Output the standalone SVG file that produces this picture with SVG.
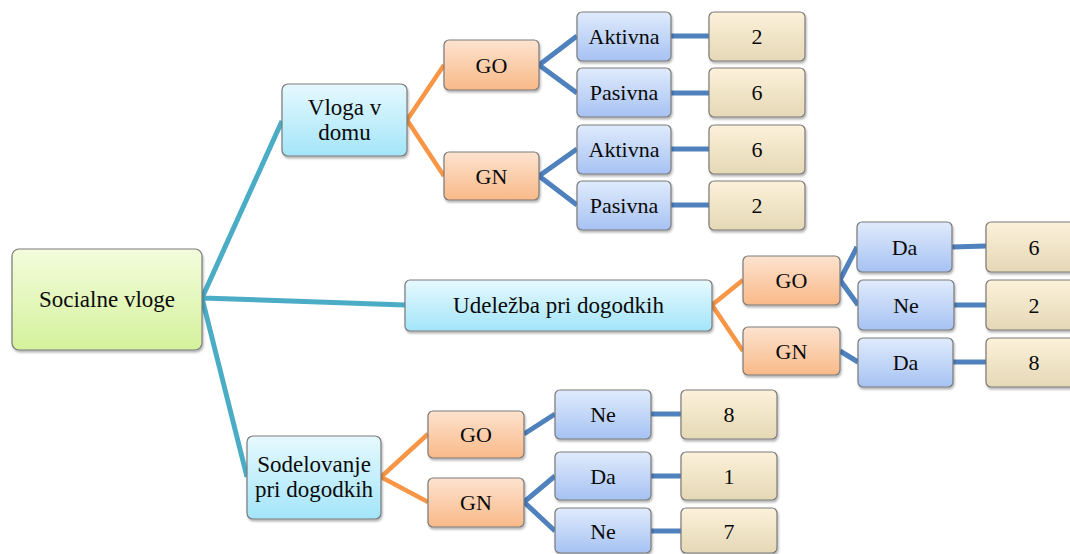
<svg xmlns="http://www.w3.org/2000/svg" width="1070" height="554" viewBox="0 0 1070 554" font-family="Liberation Serif, serif">
  <defs>
    <linearGradient id="gGreen" x1="0" y1="0" x2="0" y2="1">
      <stop offset="0" stop-color="#f3fcdc"/>
      <stop offset="1" stop-color="#d4f29c"/>
    </linearGradient>
    <linearGradient id="gCyan" x1="0" y1="0" x2="0" y2="1">
      <stop offset="0" stop-color="#e6f9fe"/>
      <stop offset="1" stop-color="#a3e5f9"/>
    </linearGradient>
    <linearGradient id="gOrange" x1="0" y1="0" x2="0" y2="1">
      <stop offset="0" stop-color="#fde3cf"/>
      <stop offset="1" stop-color="#f9b988"/>
    </linearGradient>
    <linearGradient id="gBlue" x1="0" y1="0" x2="0" y2="1">
      <stop offset="0" stop-color="#e0ebfc"/>
      <stop offset="1" stop-color="#a6c2f3"/>
    </linearGradient>
    <linearGradient id="gTan" x1="0" y1="0" x2="0" y2="1">
      <stop offset="0" stop-color="#fcf1da"/>
      <stop offset="1" stop-color="#e5d8b6"/>
    </linearGradient>
    <filter id="shadow" x="-10%" y="-10%" width="125%" height="135%">
      <feDropShadow dx="1" dy="2" stdDeviation="1.2" flood-color="#000" flood-opacity="0.3"/>
    </filter>
  </defs>
  <style>
    rect { stroke: #7a7a7a; stroke-width: 1.2; filter: url(#shadow); }
    .root rect { fill: url(#gGreen); }
    .l1 rect { fill: url(#gCyan); }
    .grp rect { fill: url(#gOrange); }
    .opt rect { fill: url(#gBlue); }
    .val rect { fill: url(#gTan); }
    text { font-family: "Liberation Serif", serif; fill: #0a0a0a; text-anchor: middle; font-size: 22px; }
    .big { font-size: 23px; }
    .c { dominant-baseline: central; }
    #connectors path { fill: none; stroke-linecap: butt; }
    .teal { stroke: #4bacc6; stroke-width: 5; }
    .orange { stroke: #f79646; stroke-width: 4.5; }
    .blue { stroke: #4f81bd; stroke-width: 5; }
  </style>

  <rect x="0" y="0" width="1070" height="554" fill="#fff" style="stroke:none;filter:none"/>

  <g id="connectors">
    <path class="teal" d="M202,298 L282,121 M202,298 L405,305 M202,298 L247,477"/>
    <path class="orange" d="M407,120 L444,65 M407,120 L444,176 M712,305 L743,280 M712,305 L743,351 M381,477 L428,434 M381,477 L428,502"/>
    <path class="blue" d="M539,65 L577,36 M539,65 L577,93 M539,176 L577,149 M539,176 L577,205
      M671,36 L709,36 M671,93 L709,93 M671,149 L709,149 M671,205 L709,205
      M840,280 L857,247 M840,280 L858,305 M840,351 L858,362
      M952,247 L986,246 M954,305 L986,305 M953,362 L986,362
      M524,434 L555,414 M524,502 L555,476 M524,502 L555,531
      M651,414 L681,414 M651,476 L681,476 M651,531 L681,531"/>
  </g>

  <!-- root -->
  <g id="n-root" class="root">
    <rect x="12" y="249" width="190" height="101" rx="7"/>
    <text class="big c" x="107" y="299">Socialne vloge</text>
  </g>

  <!-- first level -->
  <g id="n-vloga" class="l1">
    <rect x="282" y="84" width="125" height="72" rx="6"/>
    <text class="big" x="344.5" y="115">Vloga v</text>
    <text class="big" x="344.5" y="140">domu</text>
  </g>
  <g id="n-udelezba" class="l1">
    <rect x="405" y="280" width="307" height="51" rx="5"/>
    <text class="big c" x="558.5" y="305">Udeležba pri dogodkih</text>
  </g>
  <g id="n-sodelovanje" class="l1">
    <rect x="247" y="436" width="134" height="83" rx="6"/>
    <text class="big" x="314" y="472">Sodelovanje</text>
    <text class="big" x="314" y="497">pri dogodkih</text>
  </g>

  <!-- Vloga v domu branch -->
  <g id="n-vd-go" class="grp">
    <rect x="444" y="40" width="95" height="50" rx="5"/>
    <text class="c" x="491.5" y="65">GO</text>
  </g>
  <g id="n-vd-gn" class="grp">
    <rect x="444" y="152" width="95" height="48" rx="5"/>
    <text class="c" x="491.5" y="176">GN</text>
  </g>
  <g id="n-vd-go-akt" class="opt">
    <rect x="577" y="12" width="94" height="49" rx="5"/>
    <text class="c" x="624" y="36.5">Aktivna</text>
  </g>
  <g id="n-vd-go-pas" class="opt">
    <rect x="577" y="68" width="94" height="49" rx="5"/>
    <text class="c" x="624" y="92.5">Pasivna</text>
  </g>
  <g id="n-vd-gn-akt" class="opt">
    <rect x="577" y="125" width="94" height="49" rx="5"/>
    <text class="c" x="624" y="149.5">Aktivna</text>
  </g>
  <g id="n-vd-gn-pas" class="opt">
    <rect x="577" y="181" width="94" height="49" rx="5"/>
    <text class="c" x="624" y="205.5">Pasivna</text>
  </g>
  <g id="v-vd-go-akt" class="val">
    <rect x="709" y="12" width="96" height="49" rx="5"/>
    <text class="c" x="757" y="36.5">2</text>
  </g>
  <g id="v-vd-go-pas" class="val">
    <rect x="709" y="68" width="96" height="49" rx="5"/>
    <text class="c" x="757" y="92.5">6</text>
  </g>
  <g id="v-vd-gn-akt" class="val">
    <rect x="709" y="125" width="96" height="49" rx="5"/>
    <text class="c" x="757" y="149.5">6</text>
  </g>
  <g id="v-vd-gn-pas" class="val">
    <rect x="709" y="181" width="96" height="49" rx="5"/>
    <text class="c" x="757" y="205.5">2</text>
  </g>

  <!-- Udeležba pri dogodkih branch -->
  <g id="n-ud-go" class="grp">
    <rect x="743" y="256" width="97" height="49" rx="5"/>
    <text class="c" x="791.5" y="280.5">GO</text>
  </g>
  <g id="n-ud-gn" class="grp">
    <rect x="743" y="327" width="97" height="48" rx="5"/>
    <text class="c" x="791.5" y="351">GN</text>
  </g>
  <g id="n-ud-go-da" class="opt">
    <rect x="857" y="222" width="95" height="50" rx="5"/>
    <text class="c" x="904.5" y="247">Da</text>
  </g>
  <g id="n-ud-go-ne" class="opt">
    <rect x="858" y="280" width="96" height="50" rx="5"/>
    <text class="c" x="906" y="305">Ne</text>
  </g>
  <g id="n-ud-gn-da" class="opt">
    <rect x="858" y="338" width="95" height="49" rx="5"/>
    <text class="c" x="905.5" y="362.5">Da</text>
  </g>
  <g id="v-ud-go-da" class="val">
    <rect x="986" y="222" width="96" height="50" rx="5"/>
    <text class="c" x="1034" y="247">6</text>
  </g>
  <g id="v-ud-go-ne" class="val">
    <rect x="986" y="280" width="96" height="50" rx="5"/>
    <text class="c" x="1034" y="305">2</text>
  </g>
  <g id="v-ud-gn-da" class="val">
    <rect x="986" y="338" width="96" height="49" rx="5"/>
    <text class="c" x="1034" y="362.5">8</text>
  </g>

  <!-- Sodelovanje pri dogodkih branch -->
  <g id="n-so-go" class="grp">
    <rect x="428" y="411" width="96" height="47" rx="5"/>
    <text class="c" x="476" y="434.5">GO</text>
  </g>
  <g id="n-so-gn" class="grp">
    <rect x="428" y="478" width="96" height="49" rx="5"/>
    <text class="c" x="476" y="502.5">GN</text>
  </g>
  <g id="n-so-go-ne" class="opt">
    <rect x="555" y="390" width="96" height="49" rx="5"/>
    <text class="c" x="603" y="414.5">Ne</text>
  </g>
  <g id="n-so-gn-da" class="opt">
    <rect x="555" y="452" width="96" height="48" rx="5"/>
    <text class="c" x="603" y="476">Da</text>
  </g>
  <g id="n-so-gn-ne" class="opt">
    <rect x="555" y="508" width="96" height="45" rx="5"/>
    <text class="c" x="603" y="531">Ne</text>
  </g>
  <g id="v-so-go-ne" class="val">
    <rect x="681" y="390" width="96" height="49" rx="5"/>
    <text class="c" x="729" y="414.5">8</text>
  </g>
  <g id="v-so-gn-da" class="val">
    <rect x="681" y="452" width="96" height="48" rx="5"/>
    <text class="c" x="729" y="476">1</text>
  </g>
  <g id="v-so-gn-ne" class="val">
    <rect x="681" y="508" width="96" height="45" rx="5"/>
    <text class="c" x="729" y="531">7</text>
  </g>
</svg>
